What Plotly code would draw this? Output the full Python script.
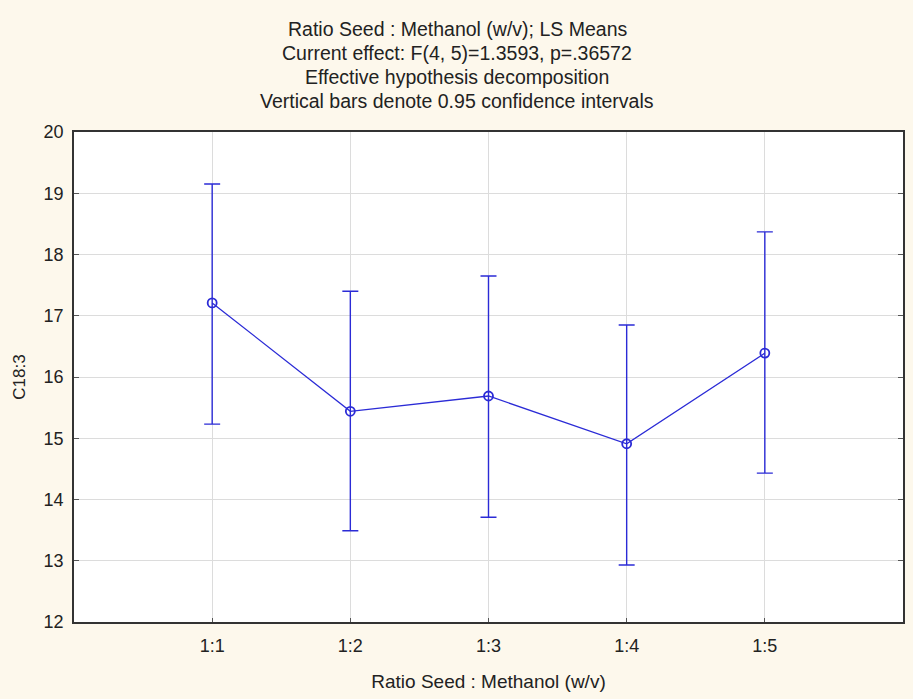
import plotly.graph_objects as go

categories = ["1:1", "1:2", "1:3", "1:4", "1:5"]
means = [17.21, 15.44, 15.69, 14.91, 16.39]
upper = [19.15, 17.40, 17.65, 16.85, 18.37]
lower = [15.23, 13.49, 13.71, 12.93, 14.43]
title_lines = [
    "Ratio Seed : Methanol (w/v); LS Means",
    "Current effect: F(4, 5)=1.3593, p=.36572",
    "Effective hypothesis decomposition",
    "Vertical bars denote 0.95 confidence intervals",
]
y_ticks = [12, 13, 14, 15, 16, 17, 18, 19, 20]

xpos = list(range(1, len(categories) + 1))
err_plus = [u - m for u, m in zip(upper, means)]
err_minus = [m - l for m, l in zip(means, lower)]

blue = "#2B2BD6"
fig = go.Figure()
fig.add_trace(go.Scatter(
    x=xpos, y=means, mode="lines+markers",
    line=dict(color=blue, width=1.3),
    marker=dict(symbol="circle-open", size=9, color=blue, line=dict(width=1.8, color=blue)),
    error_y=dict(type="data", symmetric=False, array=err_plus, arrayminus=err_minus,
                 color=blue, thickness=1.4, width=8),
    showlegend=False,
))

font_fam = "Liberation Sans, Arial, sans-serif"
W, H = 913, 699
L, R, T, B = 74, 905, 132, 622

fig.update_layout(
    width=W, height=H,
    margin=dict(l=L, r=W - R, t=T, b=H - B),
    paper_bgcolor="#FDF8EC",
    plot_bgcolor="#FFFFFF",
    font=dict(family=font_fam, color="#222222", size=17),
)
fig.update_xaxes(
    range=[0, 6], tickmode="array", tickvals=xpos, ticktext=categories,
    showgrid=True, gridcolor="#DCDCDC", gridwidth=1,
    showline=True, linecolor="#333333", linewidth=1.5, mirror=True,
    ticks="inside", ticklen=4, tickcolor="#555555",
    tickfont=dict(size=18), zeroline=False, ticklabelstandoff=7,
    title=dict(text="Ratio Seed : Methanol (w/v)", font=dict(size=19), standoff=19),
)
fig.update_yaxes(
    range=[12, 20], tickmode="array", tickvals=y_ticks,
    showgrid=True, gridcolor="#DCDCDC", gridwidth=1,
    showline=True, linecolor="#333333", linewidth=1.5, mirror="ticks",
    ticks="inside", ticklen=5, tickcolor="#555555",
    tickfont=dict(size=18), zeroline=False, ticklabelstandoff=5,
    title=dict(text="C18:3", font=dict(size=17), standoff=14),
)

line_y = [29, 53, 77, 101]
for txt, yy in zip(title_lines, line_y):
    fig.add_annotation(text=txt, xref="paper", yref="paper",
                       x=(458 - L) / (R - L), y=(B - yy) / (B - T),
                       xanchor="center", yanchor="middle", showarrow=False,
                       font=dict(size=19.5, color="#222222", family=font_fam))

fig.write_html("out.html", config={"displayModeBar": False},
               post_script="document.body.style.margin='0';document.body.style.padding='0';")
